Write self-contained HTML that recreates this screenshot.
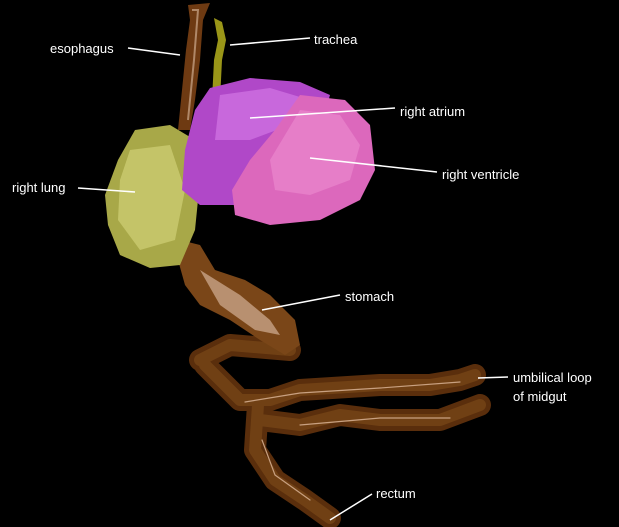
<!DOCTYPE html>
<html><head><meta charset="utf-8"><style>
html,body{margin:0;padding:0;background:#000;}
svg{display:block}
text{font-family:"Liberation Sans",Arial,sans-serif;font-size:13px;fill:#fff}
</style></head><body>
<svg width="619" height="527" viewBox="0 0 619 527">
<rect width="619" height="527" fill="#000"/>
<!-- esophagus -->
<path d="M188,5 L210,3 L203,20 L200,60 L195,100 L190,130 L178,130 L182,90 L186,50 L190,20 Z" fill="#6e3a12"/>
<path d="M192,10 L198,10 L194,60 L188,120" stroke="#b08868" stroke-width="2" fill="none"/>
<!-- trachea -->
<path d="M214,18 L222,22 L226,40 L222,60 L220,100 L212,100 L214,60 L218,40 Z" fill="#9a9618"/>
<!-- intestines -->
<g fill="none" stroke-linecap="round" stroke-linejoin="round">
<path d="M200,360 L230,345 L290,350 M205,365 L240,400 L270,400 L300,390 L380,385 L430,385 L460,380 L475,375 M258,405 L255,450 L275,480 L305,500 L330,518 M260,420 L300,425 L340,415 L380,420 L440,420 L480,405" stroke="#5a2e0c" stroke-width="22"/>
<path d="M200,360 L230,345 L290,350 M205,365 L240,400 L270,400 L300,390 L380,385 L430,385 L460,380 L475,375 M258,405 L255,450 L275,480 L305,500 L330,518 M260,420 L300,425 L340,415 L380,420 L440,420 L480,405" stroke="#704014" stroke-width="12"/>
<path d="M245,402 L300,393 L380,388 L460,382 M262,440 L275,475 L310,500 M300,425 L380,418 L450,418" stroke="#c8a080" stroke-width="1.2"/>
</g>
<!-- stomach -->
<path d="M180,240 L200,245 L215,270 L245,280 L270,295 L295,320 L300,345 L285,355 L260,340 L230,320 L200,305 L185,285 L178,260 Z" fill="#7a4618"/>
<path d="M200,270 L240,295 L270,320 L280,335 L255,330 L220,305 Z" fill="#b89070"/>
<!-- right lung -->
<path d="M135,130 L170,125 L195,140 L200,180 L195,230 L180,265 L150,268 L120,255 L108,225 L105,195 L118,160 Z" fill="#a8a848"/>
<path d="M130,150 L170,145 L185,190 L175,240 L140,250 L118,220 L120,180 Z" fill="#c4c468"/>
<!-- right atrium -->
<path d="M210,88 L250,78 L300,82 L330,95 L320,130 L280,150 L250,180 L240,205 L200,205 L182,190 L185,150 L195,110 Z" fill="#b048c8"/>
<path d="M220,95 L270,88 L310,100 L290,125 L250,140 L215,140 Z" fill="#c868dc"/>
<!-- right ventricle -->
<path d="M300,95 L345,100 L370,125 L375,170 L360,200 L320,220 L270,225 L235,215 L232,190 L250,160 L275,130 Z" fill="#dc68bc"/>
<path d="M300,110 L340,115 L360,145 L350,180 L310,195 L275,190 L270,160 Z" fill="#e67ec8"/>
<!-- leader lines -->
<g stroke="#fff" stroke-width="1.5">
<line x1="128" y1="48" x2="180" y2="55"/>
<line x1="230" y1="45" x2="310" y2="38"/>
<line x1="250" y1="118" x2="395" y2="108"/>
<line x1="310" y1="158" x2="437" y2="172"/>
<line x1="78" y1="188" x2="135" y2="192"/>
<line x1="262" y1="310" x2="340" y2="295"/>
<line x1="478" y1="378" x2="508" y2="377"/>
<line x1="330" y1="520" x2="372" y2="494"/>
</g>
<text x="50" y="53">esophagus</text>
<text x="314" y="44">trachea</text>
<text x="400" y="116">right atrium</text>
<text x="442" y="179">right ventricle</text>
<text x="12" y="192">right lung</text>
<text x="345" y="301">stomach</text>
<text x="513" y="382">umbilical loop</text>
<text x="513" y="401">of midgut</text>
<text x="376" y="498">rectum</text>
</svg>
</body></html>
